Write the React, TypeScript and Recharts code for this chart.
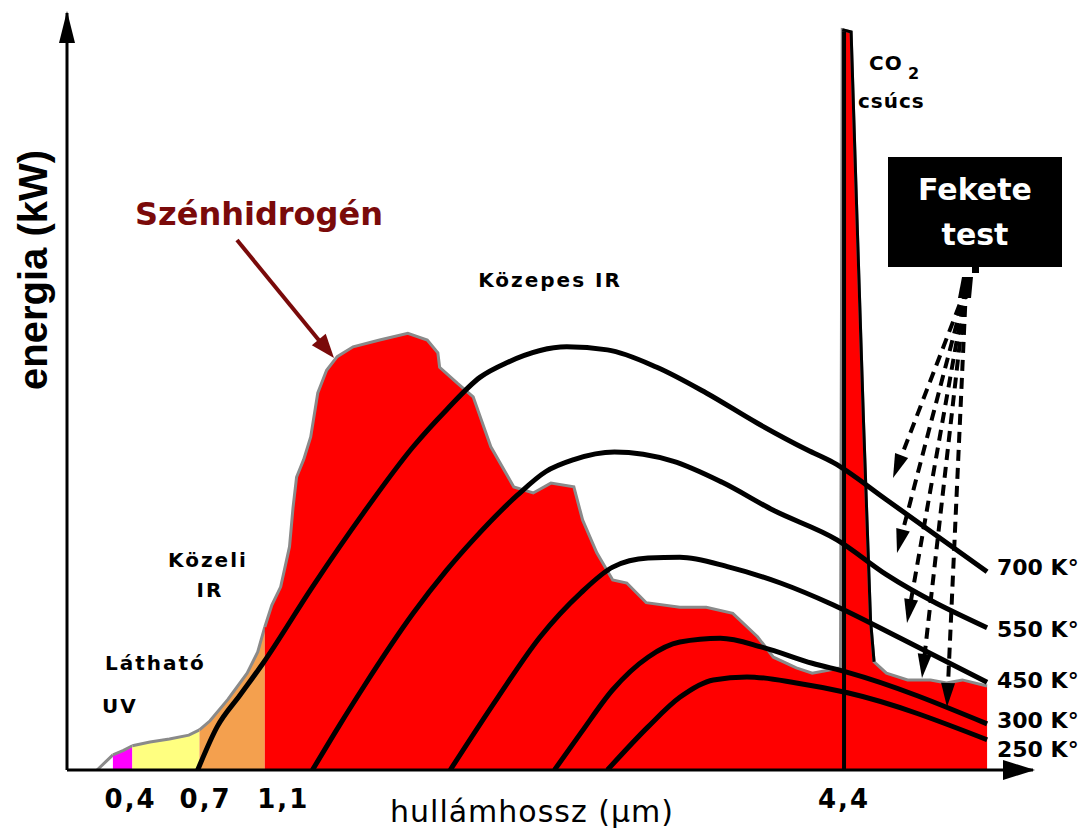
import { Area, ComposedChart, Line, ReferenceLine, XAxis, YAxis } from 'recharts'

// hydrocarbon emission spectrum (wavelength in µm, relative energy)
const spectrumX = [
  0.17, 0.22, 0.26, 0.32, 0.37, 0.47, 0.58, 0.69, 0.75, 0.81, 0.91, 1.02, 1.08, 1.12,
  1.16, 1.21, 1.26, 1.28, 1.3, 1.34, 1.38, 1.42, 1.47, 1.53, 1.62, 1.77, 1.93, 2.04,
  2.1, 2.11, 2.21, 2.3, 2.4, 2.53, 2.64, 2.74, 2.87, 2.92, 3.0, 3.09, 3.17, 3.28,
  3.47, 3.62, 3.77, 3.91, 4.0, 4.13, 4.22, 4.34, 4.38, 4.39, 4.44, 4.47, 4.51, 4.55,
  4.57, 4.64, 4.76, 4.89, 4.98, 5.07, 5.21
]
const spectrumY = [
  0, 1.1, 2.0, 2.6, 3.2, 3.7, 4.1, 4.6, 5.3, 6.5, 9.3, 12.8, 15.6, 18.9,
  21.8, 24.2, 29.5, 34.7, 38.7, 41.0, 44.0, 49.8, 52.8, 54.6, 55.9, 56.8, 57.7, 56.8,
  55.1, 53.2, 51.1, 49.3, 42.7, 37.4, 36.6, 37.9, 37.4, 33.0, 28.7, 25.1, 24.7, 22.1,
  21.5, 21.5, 20.7, 17.6, 14.9, 13.5, 12.8, 13.3, 13.5, 97.8, 97.5, 75.3, 46.2, 19.8,
  14.3, 12.8, 11.9, 11.9, 11.5, 11.9, 11.1
]

// colour bands under the spectrum: none, UV, visible, near IR, mid IR
const bandEdges = [0.17, 0.26, 0.37, 0.75, 1.12, 5.21]
const bandColors = ['#ffffff', '#ff00ff', '#ffff80', '#f4a04e', '#ff0000']

// black body curves
const bb700X = [0.74, 0.85, 0.98, 1.11, 1.39, 1.68, 1.96, 2.15, 2.34, 2.49, 2.83, 3.06, 3.34, 3.62, 3.91, 4.19, 4.34, 4.64, 5.21]
const bb700Y = [0, 5.7, 9.9, 14.1, 24.2, 34.0, 42.7, 47.6, 51.9, 53.8, 55.9, 55.5, 53.2, 49.8, 45.8, 42.3, 40.6, 35.7, 26.2]
const bb550X = [1.39, 1.54, 1.68, 1.96, 2.15, 2.3, 2.55, 2.71, 2.87, 3.1, 3.43, 3.71, 4.0, 4.36, 4.64, 5.21]
const bb550Y = [0, 5.8, 11.0, 20.7, 26.4, 30.4, 36.3, 39.4, 41.0, 42.0, 40.8, 38.0, 34.3, 30.4, 25.8, 18.8]
const bb450X = [2.17, 2.44, 2.68, 2.91, 3.09, 3.29, 3.47, 3.75, 4.04, 4.34, 4.72, 5.21]
const bb450Y = [0, 9.6, 17.6, 23.4, 26.8, 28.0, 28.1, 26.8, 24.7, 21.8, 17.4, 11.6]
const bb300X = [2.76, 2.91, 3.09, 3.29, 3.47, 3.7, 3.94, 4.22, 4.42, 5.21]
const bb300Y = [0, 4.9, 10.6, 14.9, 16.9, 17.4, 16.2, 14.1, 12.9, 6.1]
const bb250X = [3.06, 3.29, 3.47, 3.66, 3.85, 4.13, 4.42, 5.21]
const bb250Y = [0, 5.7, 9.6, 11.9, 12.3, 11.5, 10.2, 4.0]

const xTicks = [0.4, 0.7, 1.1, 4.4]
const co2PeakX = 4.4
const co2PeakTop = 97.6
const curveLabels = ['700 K°', '550 K°', '450 K°', '300 K°', '250 K°']

const zip = (xs: number[], ys: number[]) => xs.map((x, i) => ({ x, e: ys[i] }))

const spectrum = zip(spectrumX, spectrumY)
const bands = bandColors.map((fill, i) => ({
  fill,
  data: spectrum.filter(p => p.x >= bandEdges[i] && p.x <= bandEdges[i + 1])
}))
const spikeEdge = spectrum.filter(p => p.x >= 4.39 && p.x <= 4.57)
const curves = [
  zip(bb700X, bb700Y),
  zip(bb550X, bb550Y),
  zip(bb450X, bb450Y),
  zip(bb300X, bb300Y),
  zip(bb250X, bb250Y)
]

const FONT = '"DejaVu Sans", Verdana, sans-serif'

// the original drawing spreads the short labels a little apart
const tickNudge: Record<string, number> = { '0.4': -7, '0.7': 15, '1.1': 22 }

function WaveTick({ x, y, payload }: any) {
  const key = String(payload.value)
  return (
    <text
      x={x + (tickNudge[key] || 0)}
      y={y}
      dy={30}
      textAnchor="middle"
      fontFamily={FONT}
      fontWeight="bold"
      fontSize={26}
      letterSpacing={2}
      fill="#000"
    >
      {key.replace('.', ',')}
    </text>
  )
}

function arrowHead(x1: number, y1: number, x2: number, y2: number, len: number, half: number) {
  const dx = x2 - x1
  const dy = y2 - y1
  const d = Math.hypot(dx, dy)
  const ux = dx / d
  const uy = dy / d
  const bx = x2 - ux * len
  const by = y2 - uy * len
  return `${x2},${y2} ${bx - uy * half},${by + ux * half} ${bx + uy * half},${by - ux * half}`
}

const blackBodyOrigin = [966, 288]
const blackBodyTargets = [
  [893, 478],
  [897, 553],
  [907, 623],
  [922, 678],
  [947, 707]
]
const labelBaselines = [575, 637, 688, 728, 757]

function Annotations() {
  const small = { fontFamily: FONT, fontWeight: 'bold' as const, fontSize: 20, letterSpacing: 2, fill: '#000' }
  const [ox, oy] = blackBodyOrigin
  return (
    <svg
      width={1085}
      height={830}
      style={{ position: 'absolute', left: 0, top: 0, pointerEvents: 'none' }}
    >
      {/* axis arrow heads */}
      <polygon points="67,11 59,43 75,43" fill="#000" />
      <polygon points="1035,770 1003,760 1003,780" fill="#000" />

      <text
        x={47}
        y={270}
        transform="rotate(-90 47 270)"
        textAnchor="middle"
        fontFamily='"Liberation Sans", Arial, sans-serif'
        fontWeight="bold"
        fontSize={40}
        fill="#000"
      >
        energia (kW)
      </text>
      <text x={532} y={822} textAnchor="middle" fontFamily={FONT} fontSize={30} letterSpacing={1} fill="#000">
        hullámhossz (µm)
      </text>

      <text x={135} y={225} fontFamily={FONT} fontWeight="bold" fontSize={32} fill="#7a0a0a">
        Szénhidrogén
      </text>
      <line x1={237} y1={240} x2={322} y2={344} stroke="#7a0a0a" strokeWidth={4} />
      <polygon points={arrowHead(237, 240, 334, 358, 24, 9)} fill="#7a0a0a" />

      <text x={550} y={287} textAnchor="middle" {...small}>Közepes IR</text>
      <text x={208} y={567} textAnchor="middle" {...small}>Közeli</text>
      <text x={210} y={597} textAnchor="middle" {...small}>IR</text>
      <text x={105} y={670} {...small}>Látható</text>
      <text x={102} y={713} {...small}>UV</text>

      <text x={869} y={70} {...small} letterSpacing={1}>CO</text>
      <text x={908} y={79} {...small} fontSize={16}>2</text>
      <text x={858} y={108} {...small} letterSpacing={1}>csúcs</text>

      <rect x={888} y={157} width={174} height={110} fill="#000" />
      <rect x={972} y={265} width={7} height={8} fill="#000" />
      <text x={975} y={200} textAnchor="middle" fontFamily={FONT} fontWeight="bold" fontSize={30} fill="#fff">
        Fekete
      </text>
      <text x={975} y={245} textAnchor="middle" fontFamily={FONT} fontWeight="bold" fontSize={30} fill="#fff">
        test
      </text>
      <polygon points="962,277 973,277 971,298 958,298" fill="#000" />
      {blackBodyTargets.map(([tx, ty], i) => {
        const d = Math.hypot(tx - ox, ty - oy)
        const sx = tx - ((tx - ox) / d) * 20
        const sy = ty - ((ty - oy) / d) * 20
        return (
          <g key={i}>
            <line x1={ox} y1={oy} x2={sx} y2={sy} stroke="#000" strokeWidth={4} strokeDasharray="11 7" />
            <polygon points={arrowHead(ox, oy, tx, ty, 24, 7)} fill="#000" />
          </g>
        )
      })}

      {curveLabels.map((t, i) => (
        <text key={t} x={997} y={labelBaselines[i]} fontFamily={FONT} fontWeight="bold" fontSize={22} fill="#000">
          {t}
        </text>
      ))}
    </svg>
  )
}

export default function App() {
  return (
    <div style={{ position: 'absolute', left: 0, top: 0, width: 1085, height: 830, background: '#fff' }}>
      <ComposedChart width={1085} height={830} margin={{ top: 13, right: 52, bottom: 0, left: 66 }}>
        <XAxis
          type="number"
          dataKey="x"
          domain={[0, 5.47]}
          ticks={xTicks}
          interval={0}
          height={60}
          tickLine={false}
          axisLine={{ stroke: '#000', strokeWidth: 3 }}
          tick={<WaveTick />}
          allowDataOverflow
        />
        <YAxis
          type="number"
          dataKey="e"
          domain={[0, 100]}
          width={1}
          tick={false}
          tickLine={false}
          axisLine={{ stroke: '#000', strokeWidth: 3 }}
          allowDataOverflow
        />

        {bands.map((b, i) => (
          <Area
            key={i}
            data={b.data}
            dataKey="e"
            type="linear"
            fill={b.fill}
            fillOpacity={1}
            stroke="#8a8a8a"
            strokeWidth={3}
            isAnimationActive={false}
          />
        ))}

        <Line
          data={spikeEdge}
          dataKey="e"
          type="linear"
          stroke="#000"
          strokeWidth={3}
          dot={false}
          isAnimationActive={false}
        />

        <ReferenceLine
          segment={[
            { x: co2PeakX, y: 0 },
            { x: co2PeakX, y: co2PeakTop }
          ]}
          stroke="#000"
          strokeWidth={4}
        />

        {curves.map((c, i) => (
          <Line
            key={i}
            data={c}
            dataKey="e"
            type="monotone"
            stroke="#000"
            strokeWidth={5}
            dot={false}
            isAnimationActive={false}
          />
        ))}
      </ComposedChart>
      <Annotations />
    </div>
  )
}
